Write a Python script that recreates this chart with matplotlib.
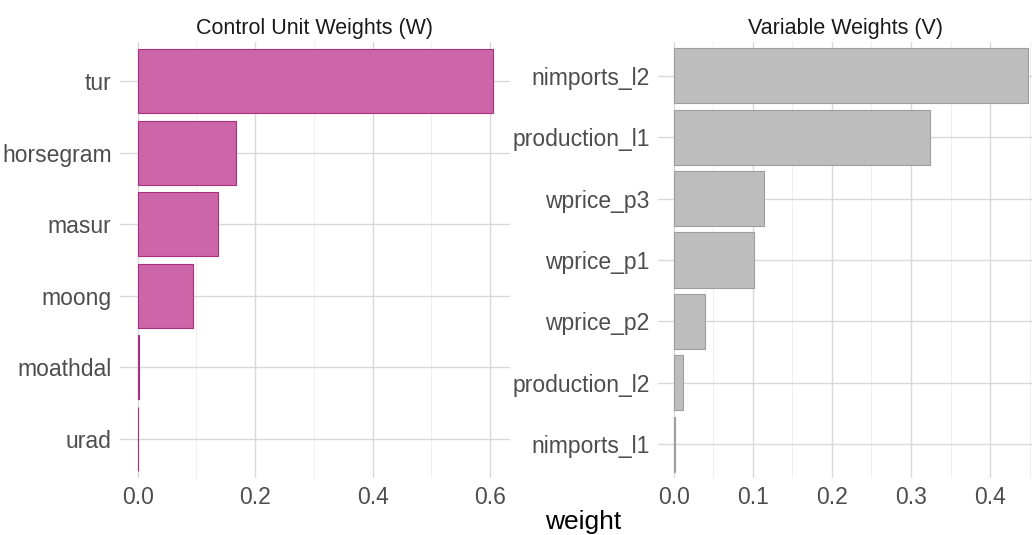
import numpy as np
import matplotlib
matplotlib.use('Agg')
import matplotlib.pyplot as plt
from matplotlib.ticker import MultipleLocator

units = ['tur', 'horsegram', 'masur', 'moong', 'moathdal', 'urad']
unit_w = [0.605, 0.167, 0.136, 0.094, 0.002, 0.001]
vars_ = ['nimports_l2', 'production_l1', 'wprice_p3', 'wprice_p1', 'wprice_p2', 'production_l2', 'nimports_l1']
var_w = [0.448, 0.324, 0.114, 0.101, 0.039, 0.011, 0.001]

plt.rcParams['font.family'] = ['Liberation Sans', 'DejaVu Sans']
fig = plt.figure(figsize=(10.32, 5.35), dpi=100)
W, H = 1032, 535
axL = fig.add_axes([120/W, (H-478)/H, (510-120)/W, (478-42)/H])
axR = fig.add_axes([658/W, (H-478)/H, (1032-658)/W, (478-42)/H])

def style(ax):
    for s in ax.spines.values():
        s.set_visible(False)
    ax.tick_params(which='both', length=0, labelsize=16.5, colors='#4d4d4d', pad=6)
    ax.grid(True, which='major', color='#d9d9d9', lw=1.0)
    ax.grid(True, which='minor', axis='x', color='#ececec', lw=0.6)
    ax.set_axisbelow(True)

yl = np.arange(len(units))[::-1]
axL.barh(yl, unit_w, height=0.9, color='#cc66a8', edgecolor='#a8307f', lw=0.8)
axL.set_yticks(yl, units)
axL.set_xlim(-0.03, 0.634)
axL.set_ylim(-0.55, len(units) - 0.45)
axL.xaxis.set_major_locator(MultipleLocator(0.2))
axL.xaxis.set_minor_locator(MultipleLocator(0.1))
axL.set_title('Control Unit Weights (W)', fontsize=15.5, color='#1a1a1a', pad=6)
style(axL)

yr = np.arange(len(vars_))[::-1]
axR.barh(yr, var_w, height=0.9, color='#bdbdbd', edgecolor='#9e9e9e', lw=0.8)
axR.set_yticks(yr, vars_)
axR.set_xlim(-0.02, 0.453)
axR.set_ylim(-0.55, len(vars_) - 0.45)
axR.xaxis.set_major_locator(MultipleLocator(0.1))
axR.xaxis.set_minor_locator(MultipleLocator(0.05))
axR.set_title('Variable Weights (V)', fontsize=15.5, color='#1a1a1a', pad=6)
style(axR)

fig.text(583/W, 1/H, 'weight', fontsize=19, ha='center', va='bottom')
fig.savefig('out.png', dpi=100)
